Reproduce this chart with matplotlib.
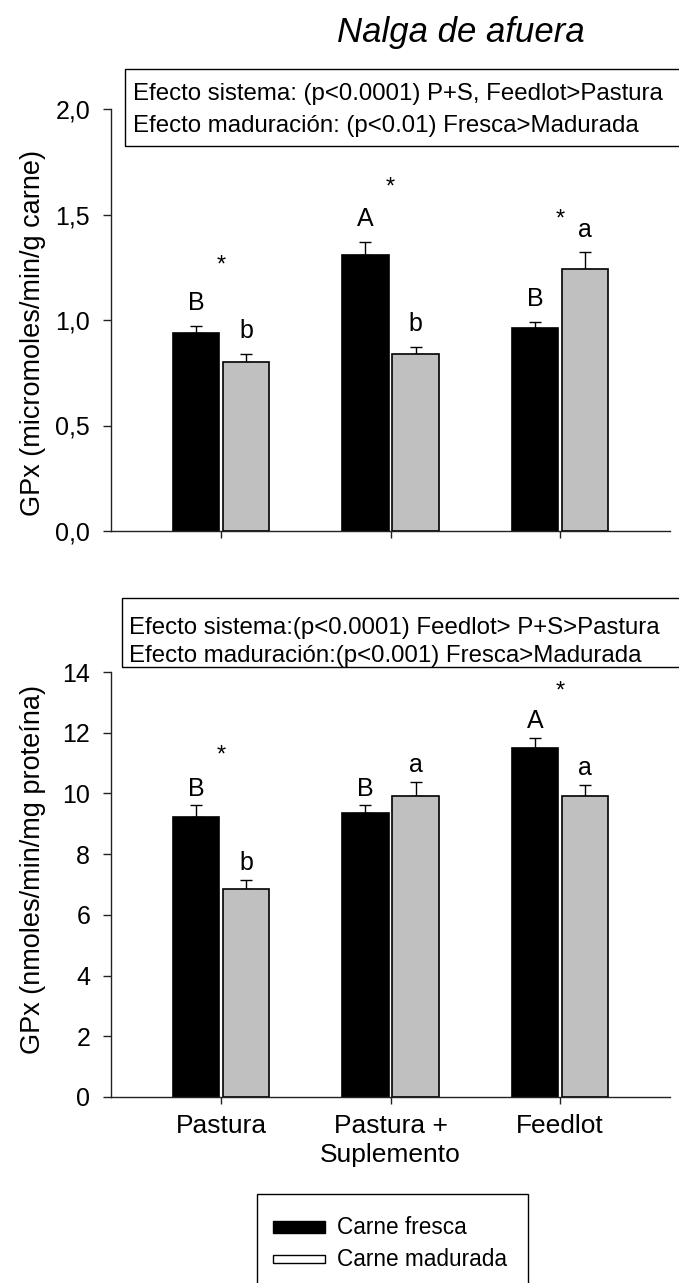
import numpy as np
import matplotlib
matplotlib.use('Agg')
import matplotlib.pyplot as plt
from matplotlib.patches import Rectangle
from matplotlib.ticker import FuncFormatter

plt.rcParams['font.family'] = ['Liberation Sans', 'DejaVu Sans']

# Datos
sistemas = ['Pastura', 'Pastura +\nSuplemento', 'Feedlot']
series = ['Carne fresca', 'Carne madurada']

# GPx (micromoles/min/g carne)
gpx_g_fresca = [0.94, 1.31, 0.96]
gpx_g_fresca_err = [0.03, 0.06, 0.03]
gpx_g_madurada = [0.80, 0.84, 1.24]
gpx_g_madurada_err = [0.04, 0.03, 0.08]
letras_g_fresca = ['B', 'A', 'B']
letras_g_madurada = ['b', 'b', 'a']
asterisco_g = [1.29, 1.66, 1.51]
texto_g = ['Efecto sistema: (p<0.0001) P+S, Feedlot>Pastura',
           'Efecto maduración: (p<0.01) Fresca>Madurada']

# GPx (nmoles/min/mg proteína)
gpx_p_fresca = [9.24, 9.35, 11.50]
gpx_p_fresca_err = [0.37, 0.26, 0.32]
gpx_p_madurada = [6.86, 9.90, 9.91]
gpx_p_madurada_err = [0.29, 0.49, 0.38]
letras_p_fresca = ['B', 'B', 'A']
letras_p_madurada = ['b', 'a', 'a']
asterisco_p = [11.5, None, 13.6]
texto_p = ['Efecto sistema:(p<0.0001) Feedlot> P+S>Pastura',
           'Efecto maduración:(p<0.001) Fresca>Madurada']

W, H = 679, 1283
fig = plt.figure(figsize=(W / 100, H / 100), dpi=100)

# pixeles -> fraccion de figura
def fx(px):
    return px / W

def fy(py):
    return 1 - py / H

color_fresca = 'black'
color_madurada = '#c0c0c0'
x = np.arange(len(sistemas))
ancho = 0.274
desp = 0.148


def panel(ax, fresca, fresca_err, madurada, madurada_err, letras_f, letras_m,
          asteriscos, ymax, paso, gap_letra):
    ax.bar(x - desp, fresca, ancho, color=color_fresca, edgecolor='black', linewidth=1.2, zorder=2)
    ax.bar(x + desp, madurada, ancho, color=color_madurada, edgecolor='black', linewidth=1.2, zorder=2)
    ax.errorbar(x - desp, fresca, yerr=[np.zeros(len(x)), fresca_err], fmt='none',
                ecolor='black', elinewidth=1, capsize=4.5, capthick=1, zorder=1)
    ax.errorbar(x + desp, madurada, yerr=[np.zeros(len(x)), madurada_err], fmt='none',
                ecolor='black', elinewidth=1, capsize=4.5, capthick=1, zorder=1)
    for i in range(len(x)):
        ax.annotate(letras_f[i], (x[i] - desp, fresca[i] + fresca_err[i]), xytext=(0, gap_letra),
                    textcoords='offset points', ha='center', va='baseline', fontsize=18)
        ax.annotate(letras_m[i], (x[i] + desp, madurada[i] + madurada_err[i]), xytext=(0, gap_letra),
                    textcoords='offset points', ha='center', va='baseline', fontsize=18)
        if asteriscos[i] is not None:
            ax.annotate('*', (x[i], asteriscos[i]), xytext=(0, -9.5), textcoords='offset points',
                        ha='center', va='baseline', fontsize=17)
    ax.set_xlim(-0.649, 2.649)
    ax.set_ylim(0, ymax)
    ax.set_yticks(np.arange(0, ymax + paso / 2, paso))
    ax.set_xticks(x)
    ax.spines['top'].set_visible(False)
    ax.spines['right'].set_visible(False)
    for s in ['left', 'bottom']:
        ax.spines[s].set_linewidth(1)
        ax.spines[s].set_color('#222222')
    ax.tick_params(axis='y', direction='out', length=6, width=1, pad=9, labelsize=18, color='#222222')
    ax.tick_params(axis='x', direction='out', length=5, width=1, pad=7, labelsize=19, color='#222222')


# *** Panel superior ***
ax1 = fig.add_axes([fx(111), fy(531), fx(670) - fx(111), fy(109) - fy(531)])
panel(ax1, gpx_g_fresca, gpx_g_fresca_err, gpx_g_madurada, gpx_g_madurada_err,
      letras_g_fresca, letras_g_madurada, asterisco_g, 2.0, 0.5, 11.5)
ax1.yaxis.set_major_formatter(FuncFormatter(lambda v, p: f'{v:.1f}'.replace('.', ',')))
ax1.set_xticklabels([])
ax1.set_ylabel('GPx (micromoles/min/g carne)', fontsize=19.5)
ax1.yaxis.set_label_coords(-0.116, 0.47)

# *** Panel inferior ***
ax2 = fig.add_axes([fx(111), fy(1097), fx(670) - fx(111), fy(672) - fy(1097)])
panel(ax2, gpx_p_fresca, gpx_p_fresca_err, gpx_p_madurada, gpx_p_madurada_err,
      letras_p_fresca, letras_p_madurada, asterisco_p, 14, 2, 7)
ax2.set_xticklabels(sistemas, linespacing=1.3)
ax2.set_ylabel('GPx (nmoles/min/mg proteína)', fontsize=19.5)
ax2.yaxis.set_label_coords(-0.116, 0.536)

# Titulo
fig.text(fx(461), fy(42), 'Nalga de afuera', ha='center', va='baseline', fontsize=25, style='italic')

# Cuadros con los efectos
fig.add_artist(Rectangle((fx(125), fy(146)), 1.05 - fx(125), fy(69) - fy(146),
                         transform=fig.transFigure, fill=False, edgecolor='black', linewidth=1))
fig.text(fx(133), fy(100), texto_g[0], ha='left', va='baseline', fontsize=17.3)
fig.text(fx(133), fy(132), texto_g[1], ha='left', va='baseline', fontsize=17.3)

fig.add_artist(Rectangle((fx(122), fy(667)), 1.05 - fx(122), fy(598) - fy(667),
                         transform=fig.transFigure, fill=False, edgecolor='black', linewidth=1))
fig.text(fx(129), fy(634), texto_p[0], ha='left', va='baseline', fontsize=17.3)
fig.text(fx(129), fy(662), texto_p[1], ha='left', va='baseline', fontsize=17.3)

# Leyenda
fig.add_artist(Rectangle((fx(257), fy(1300)), fx(528) - fx(257), fy(1194) - fy(1300),
                         transform=fig.transFigure, fill=False, edgecolor='black', linewidth=1))
fig.add_artist(Rectangle((fx(273), fy(1233)), fx(325) - fx(273), fy(1221) - fy(1233),
                         transform=fig.transFigure, facecolor=color_fresca, edgecolor='black', linewidth=1))
fig.add_artist(Rectangle((fx(273), fy(1263)), fx(325) - fx(273), fy(1255) - fy(1263),
                         transform=fig.transFigure, facecolor='white', edgecolor='black', linewidth=1))
fig.text(fx(337), fy(1227), series[0], ha='left', va='center', fontsize=16.3)
fig.text(fx(337), fy(1260), series[1], ha='left', va='center', fontsize=16.3)

fig.savefig('out.png', dpi=100)
